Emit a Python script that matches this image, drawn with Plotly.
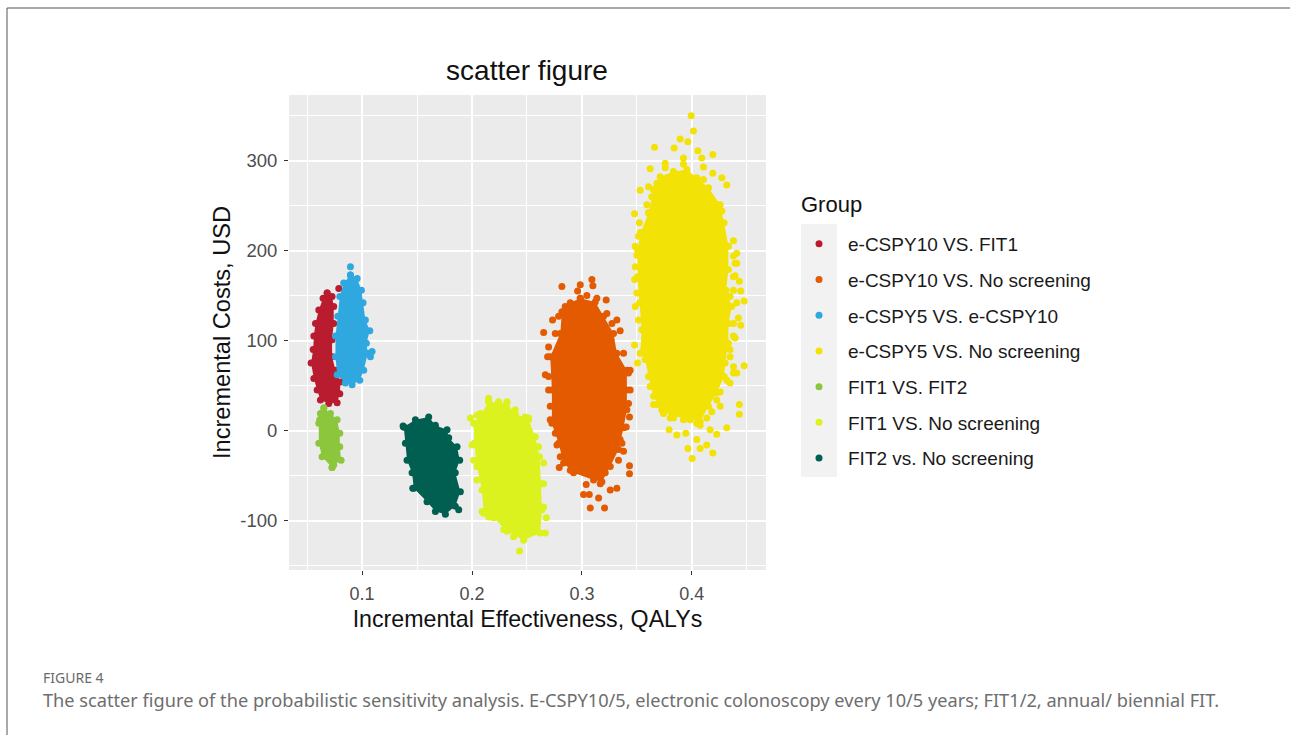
import plotly.graph_objects as go

groups = ["e-CSPY10 VS. FIT1", "e-CSPY10 VS. No screening", "e-CSPY5 VS. e-CSPY10",
          "e-CSPY5 VS. No screening", "FIT1 VS. FIT2", "FIT1 VS. No screening", "FIT2 vs. No screening"]
colors = ["#B91C2E", "#E35A00", "#2FA8E0", "#F2E205", "#8CC63C", "#DCF21E", "#005F50"]

red_x = [.0682,.0727,.0742,.0742,.0727,.0727,.0758,.0803,.0797,.0773,.0697,.0621,.0591,.0561,.0536,.0555,.0561,.0576,.0606,.0645]
red_y = [153,149,138,119,101,82,67,54,41,31,30,34,45,58,75,90,105,119,134,147]
orange_x = [.2985,.3121,.3197,.3288,.3318,.3409,.3409,.3409,.3379,.3333,.3258,.3182,.3106,.2924,.2833,.2788,.2727,.2727,.2712,.2803,.2818,.2894]
orange_y = [147,143,127,108,86,67,45,23,3,-21,-40,-57,-55,-47,-36,-14,8,45,82,108,132,142]
blue_x = [.0894,.0955,.0994,.1009,.103,.107,.1039,.1052,.1015,.0979,.0909,.0848,.0773,.0758,.0758,.0779,.0797,.0833]
blue_y = [173,169,156,142,123,111,97,86,67,56,51,53,62,82,105,127,149,164]
yellow_x = [.3652,.3712,.3833,.3955,.4045,.4152,.4258,.4294,.4333,.4333,.4312,.4364,.4333,.4333,.4303,.4294,.4227,.4152,.4076,.3955,.3818,.3727,.3652,.3606,.3576,.353,.3545,.3524,.3506,.3506,.3536,.3606]
yellow_y = [268,282,288,290,281,270,251,231,205,179,156,138,119,97,75,60,42,27,10,14,16,23,38,60,79,86,112,142,171,201,220,242]
green_x = [.0652,.0712,.0773,.0797,.0797,.0809,.0742,.0727,.0636,.0606,.0606,.0621]
green_y = [25,19,12,-3,-18,-33,-38,-41,-29,-14,8,19]
lime_x = [.2152,.2318,.2394,.2515,.2576,.2615,.2627,.2636,.2621,.247,.2318,.2197,.2106,.2091,.2045,.2021,.2015,.2076]
lime_y = [32,30,19,12,-7,-29,-59,-88,-114,-122,-112,-97,-92,-66,-40,-14,8,17]
dark_x = [.1379,.1485,.1606,.1667,.1773,.1788,.1864,.1888,.1848,.1894,.1848,.1758,.1667,.1591,.147,.1455,.1409,.1394]
dark_y = [4,12,15,6,1,-8,-18,-33,-47,-68,-84,-93,-90,-79,-64,-47,-33,-14]

red_fx = [.0788]
red_fy = [158]
orange_fx = [.2818,.2985,.3091,.31,.2961,.3221,.3318,.3348,.2733,.2652,.2667,.3439,.3433,.3433,.3433,.2794,.3039,.3015,.3067,.3152,.3076,.3206,.3318,.3258,.3364,.3379,.2773,
             .2697,.2688,.2697,.2712,.2712,.2697,.2773,.2758,.3379,.3424,.3439,.3424,.3403,.3348,.3333,.3212,.3167,.2894,.2803,.2848,.2788,.2758,.3227,.3273,.3136,.3045]
orange_fy = [160,162,168,161,155,145,123,111,123,109,62,67,15,-39,-48,-41,-60,-71,-71,-75,-86,-86,-64,-66,-14,-23,-16,
             93,82,60,27,12,45,4,-3,86,64,45,30,4,-10,-33,-47,-59,-44,-29,138,127,108,130,119,147,150]
blue_fx = [.0894,.1091,.1076]
blue_fy = [182,88,82]
yellow_fx = [.3994,.4015,.3661,.3894,.3964,.3839,.4055,.4191,.4091,.3924,.3621,.3758,.4106,.4191,.4273,.4318,.353,.3606,.3479,.3523,.4273,.4379,.4409,.4394,.3485,.3479,.4394,.4433,.4379,.4445,.4476,.4424,.4445,.4394,.3479,.3506,.4476,.4409,.4348,.3652,.4433,.4433,.3742,.3794,.3864,.3945,.4318,.4167,.4227,.4045,.3964,.4076,.4136,.4191,.4003,.3803,.3985,.4076,.4258,.3712,.3606,.4379,.3515,
             .3682,.3758,.3924,.4106,.3636,.3591,.4242,.353,.35,.3485,.35,.3485,.3515,.4379,.4409,.4379,.4348,.4409,.4379,.4379,.4348,.4348,.4379,.4318,.4258,.4227,.4182,.4136,.4045,.3924,.3833,.3742,.3682,.3621]
yellow_fy = [350,333,315,324,321,314,311,307,303,303,291,297,293,286,281,273,267,271,241,231,244,211,197,186,205,168,172,166,156,155,144,125,117,103,95,75,72,64,53,29,29,18,19,1,-5,-3,3,1,-4,-10,-20,-20,-16,-25,-31,14,12,6,27,40,242,71,216,
             275,292,296,279,260,251,251,220,195,182,153,138,123,194,186,171,149,142,119,105,90,82,64,56,43,34,21,14,8,12,14,21,29,49]
green_fx = [.0727,.0615,.0636]
green_fy = [-41,12,17]
lime_fx = [.2433,.1985,.2,.2652,.2676,.2152,.2242,.2318,.2485,.2606,.2652,.2652,.2667,.2379,.2288,.2152,.2091,.2045,.2015,.2076,.2045,.2394,.2515]
lime_fy = [-134,14,-16,-36,-97,36,32,32,15,-18,-59,-85,-114,-118,-110,-96,-90,-55,-33,19,17,23,14]
dark_fx = [.1879,.1461,.1373]
dark_fy = [-88,-64,5]

clouds = [(red_x, red_y, red_fx, red_fy), (orange_x, orange_y, orange_fx, orange_fy),
          (blue_x, blue_y, blue_fx, blue_fy), (yellow_x, yellow_y, yellow_fx, yellow_fy),
          (green_x, green_y, green_fx, green_fy), (lime_x, lime_y, lime_fx, lime_fy),
          (dark_x, dark_y, dark_fx, dark_fy)]

x_ticks = [0.1, 0.2, 0.3, 0.4]
x_labels = ["0.1", "0.2", "0.3", "0.4"]
y_ticks = [-100, 0, 100, 200, 300]
y_labels = ["-100", "0", "100", "200", "300"]

L, R, T, B = 289, 766, 95, 570
W, H = 1290, 735
px = lambda v: (v - L) / (R - L)
py = lambda v: (B - v) / (B - T)

fig = go.Figure()
for name, color, (cx, cy, fx, fy) in zip(groups, colors, clouds):
    fig.add_trace(go.Scatter(x=cx + cx[:1], y=cy + cy[:1], mode="markers", fill="toself", fillcolor=color,
                             marker=dict(color=color, size=7), name=name, legendgroup=name, showlegend=False))
    fig.add_trace(go.Scatter(x=fx, y=fy, mode="markers", marker=dict(color=color, size=7),
                             name=name, legendgroup=name))

grey = "#4D4D4D"
fig.update_xaxes(range=[0.0335, 0.4675], tickvals=x_ticks, ticktext=x_labels,
                 showgrid=True, gridcolor="white", gridwidth=2, zeroline=False,
                 ticks="outside", ticklen=4, tickcolor="#333333", tickfont=dict(size=18, color=grey),
                 ticklabelstandoff=3,
                 minor=dict(tick0=0.05, dtick=0.1, showgrid=True, gridcolor="white", gridwidth=1, ticks=""),
                 title=dict(text="Incremental Effectiveness, QALYs", font=dict(size=23.2, color="#111111"), standoff=8))
fig.update_yaxes(range=[-155, 373], tickvals=y_ticks, ticktext=y_labels, showgrid=True, gridcolor="white", gridwidth=2, zeroline=False,
                 ticks="outside", ticklen=4, tickcolor="#333333", tickfont=dict(size=18.5, color=grey),
                 ticklabelstandoff=3,
                 minor=dict(tick0=-150, dtick=100, showgrid=True, gridcolor="white", gridwidth=1, ticks=""),
                 title=dict(text="Incremental Costs, USD", font=dict(size=23.6, color="#111111"), standoff=3))

frame = dict(type="line", xref="paper", yref="paper", line=dict(color="#555555", width=1), layer="below")
fig.update_layout(
    width=W, height=H, margin=dict(l=L, r=W - R, t=T, b=H - B, autoexpand=False),
    paper_bgcolor="white", plot_bgcolor="#EBEBEB",
    font=dict(family="Liberation Sans, Arial, sans-serif", color="#111111"),
    title=dict(text="scatter figure", font=dict(size=28, color="#111111"), x=527 / W, xanchor="center",
               y=1 - 70 / H, yanchor="middle"),
    legend=dict(xref="container", yref="container", x=790 / W, y=1 - 225 / H, yanchor="top", xanchor="left",
                bgcolor="rgba(0,0,0,0)", font=dict(size=19, color="#1a1a1a"),
                tracegroupgap=8, itemwidth=48),
    shapes=[
        dict(frame, x0=px(7), x1=px(7), y0=py(8), y1=py(735)),
        dict(frame, x0=px(7), x1=px(1290), y0=py(8), y1=py(8)),
        dict(type="rect", xref="paper", yref="paper", x0=px(801), x1=px(837), y0=py(224), y1=py(477),
             fillcolor="#F2F2F2", line=dict(width=0), layer="below"),
    ],
    annotations=[
        dict(text="Group", xref="paper", yref="paper", x=px(799), y=py(204), xanchor="left", yanchor="middle",
             showarrow=False, font=dict(size=22, color="#111111")),
        dict(text="FIGURE 4", xref="paper", yref="paper", x=px(41), y=py(677), xanchor="left", yanchor="middle",
             showarrow=False, font=dict(family="Noto Sans", size=14, color="#6A6A6A")),
        dict(text="The scatter figure of the probabilistic sensitivity analysis. E-CSPY10/5, electronic colonoscopy every 10/5 years; FIT1/2, annual/ biennial FIT.",
             xref="paper", yref="paper", x=px(41), y=py(700), xanchor="left", yanchor="middle",
             showarrow=False, font=dict(family="Noto Sans", size=18.2, color="#6E6E6E")),
    ],
)

fig.write_html("out.html", config=dict(displayModeBar=False), post_script="document.body.style.margin='0';")
